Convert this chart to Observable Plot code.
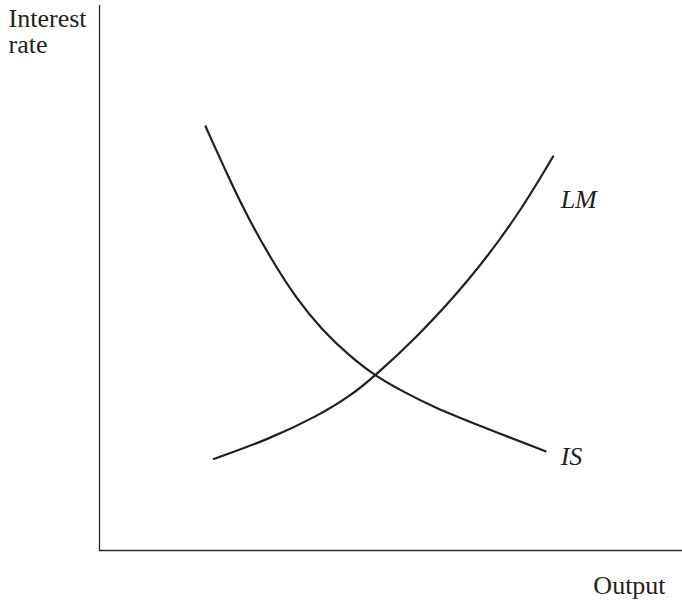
<!DOCTYPE html>
<html>
<head>
<meta charset="utf-8">
<script src="https://cdn.jsdelivr.net/npm/d3@7"></script>
<script src="https://cdn.jsdelivr.net/npm/@observablehq/plot@0.6"></script>
<style>
  html, body { margin: 0; padding: 0; background: #fff; }
  svg text { font-family: "Liberation Serif", "Times New Roman", serif; }
</style>
</head>
<body>
<div id="chart"></div>
<script>
// IS curve (output, interest rate)
const isOutput = [18.2, 22.2, 25.6, 29.6, 33.6, 38.2, 42.8, 47.2, 52.0, 57.3, 65.9, 76.5];
const isRate   = [77.8, 68.3, 60.8, 53.2, 46.5, 40.4, 35.8, 32.1, 29.2, 26.3, 22.6, 18.2];
// LM curve (output, interest rate)
const lmOutput = [19.6, 28.8, 37.3, 43.1, 47.2, 54.5, 63.1, 71.7, 77.8];
const lmRate   = [16.8, 20.3, 24.6, 28.4, 32.0, 39.2, 49.1, 61.3, 72.3];
// Curve labels
const curveNames = ["LM", "IS"];
const curveLabelX = [79.1, 79.1];
const curveLabelY = [62.8, 15.6];
// Axis titles
const axisTitles = ["Interest", "rate", "Output"];
const axisTitleX = [-15.6, -15.6, 97.1];
const axisTitleY = [96.1, 91.2, -7.9];

const isData = isOutput.map((x, i) => ({x, y: isRate[i]}));
const lmData = lmOutput.map((x, i) => ({x, y: lmRate[i]}));
const curveLabels = curveNames.map((t, i) => ({t, x: curveLabelX[i], y: curveLabelY[i]}));
const titles = axisTitles.map((t, i) => ({t, x: axisTitleX[i], y: axisTitleY[i], anchor: t === "Output" ? "end" : "start"}));

const ink = "#231f20";
const serif = "Liberation Serif";

const chart = Plot.plot({
  width: 682,
  height: 601,
  marginLeft: 99,
  marginRight: 0,
  marginTop: 5,
  marginBottom: 51,
  x: {domain: [0, 100], axis: null},
  y: {domain: [0, 100], axis: null},
  style: {fontFamily: serif, background: "#fff"},
  marks: [
    Plot.ruleX([0], {y1: 0, y2: 100, stroke: "#2a2a2a", strokeWidth: 1.3}),
    Plot.ruleY([0], {x1: 0, x2: 100, stroke: "#2a2a2a", strokeWidth: 1.3}),
    Plot.line(isData, {x: "x", y: "y", curve: "basis", stroke: ink, strokeWidth: 2.2}),
    Plot.line(lmData, {x: "x", y: "y", curve: "basis", stroke: ink, strokeWidth: 2.2}),
    Plot.text(curveLabels, {x: "x", y: "y", text: "t", textAnchor: "start", lineAnchor: "bottom",
      fontSize: 26, fontStyle: "italic", fontFamily: serif, fill: ink}),
    Plot.text(titles.filter(d => d.anchor === "start"), {x: "x", y: "y", text: "t", textAnchor: "start", lineAnchor: "bottom",
      fontSize: 26, fontFamily: serif, fill: ink}),
    Plot.text(titles.filter(d => d.anchor === "end"), {x: "x", y: "y", text: "t", textAnchor: "end", lineAnchor: "bottom",
      fontSize: 26, fontFamily: serif, fill: ink})
  ]
});
document.getElementById("chart").appendChild(chart);
</script>
</body>
</html>
